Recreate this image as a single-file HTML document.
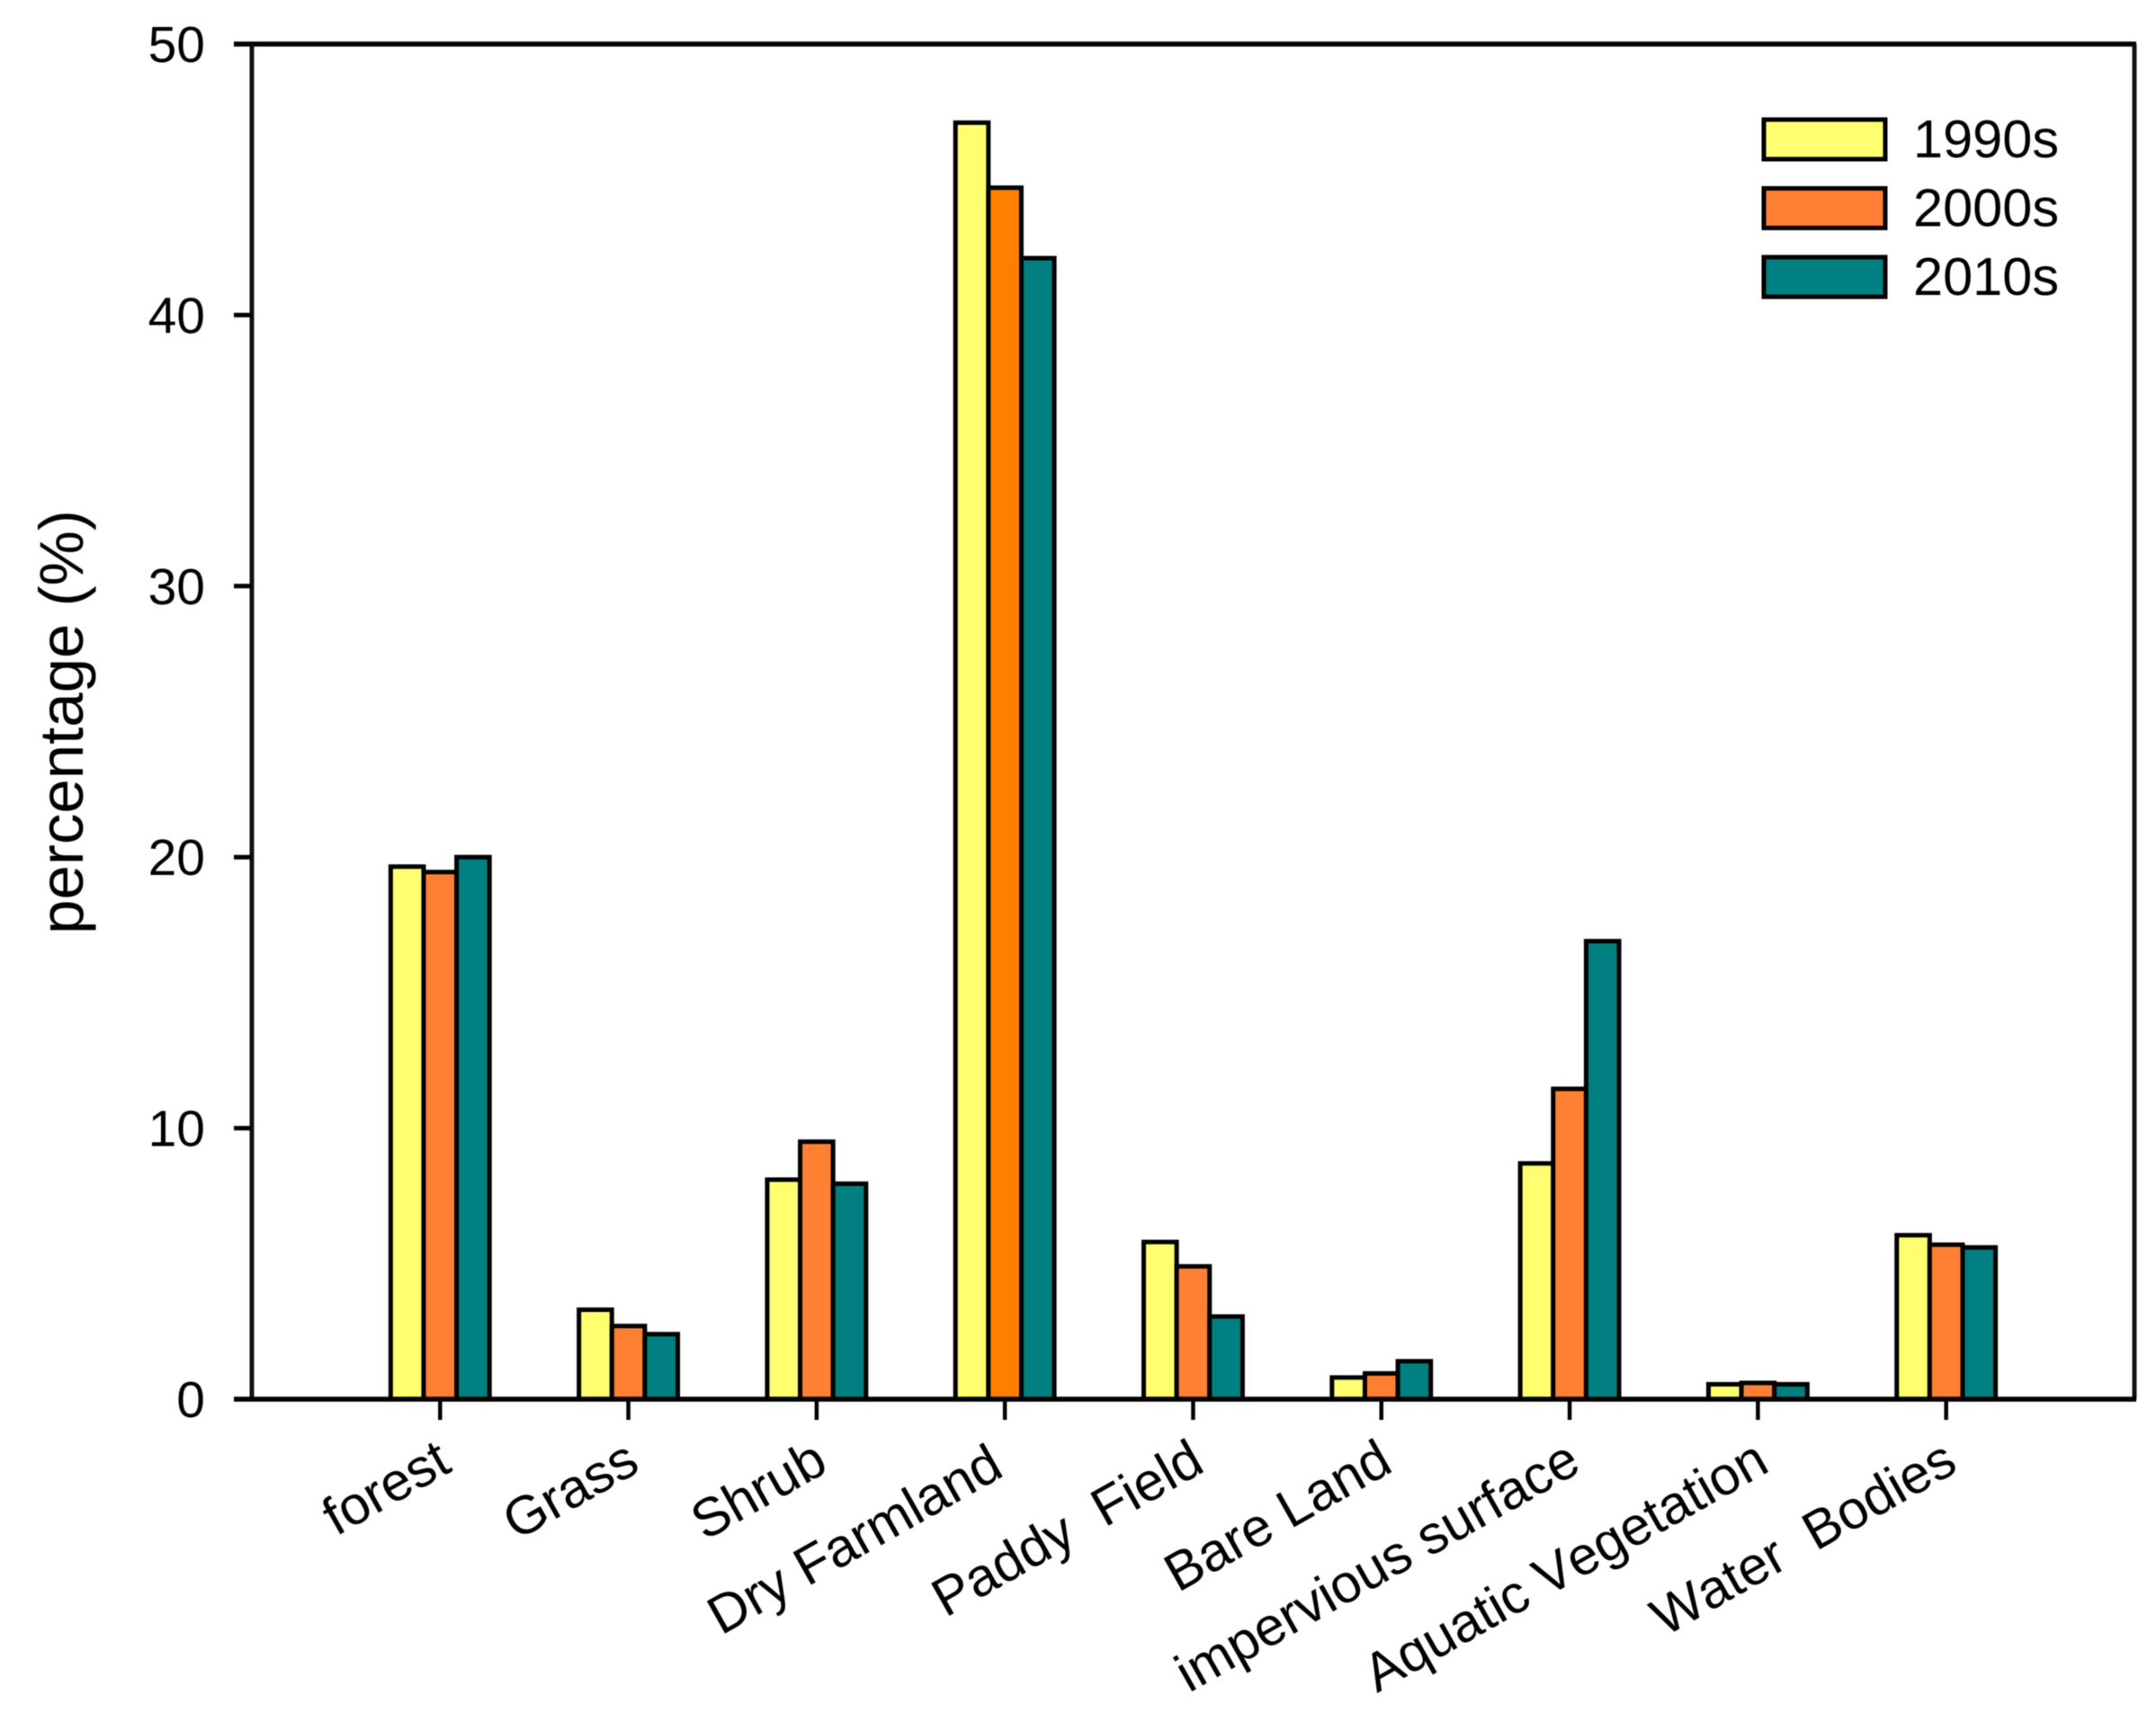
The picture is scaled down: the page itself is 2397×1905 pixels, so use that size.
<!DOCTYPE html>
<html lang="en">
<head>
<meta charset="utf-8">
<title>Land cover percentage by decade</title>
<style>
html,body{margin:0;padding:0;background:#fff;width:2397px;height:1905px;overflow:hidden}
svg{display:block;filter:blur(0.6px)}
text{font-family:"Liberation Sans",sans-serif;fill:#000;white-space:pre;font-kerning:none}
</style>
</head>
<body>
<svg id="chart" xmlns="http://www.w3.org/2000/svg" width="2397" height="1905" viewBox="0 0 2397 1905"></svg>
<script>
const categories = ['forest','Grass','Shrub','Dry Farmland','Paddy  Field','Bare Land','impervious surface','Aquatic Vegetation','Water  Bodies'];
const seriesNames = ['1990s','2000s','2010s'];
const values1990s = [19.65,3.3,8.1,47.1,5.8,0.8,8.7,0.55,6.05];
const values2000s = [19.45,2.7,9.5,44.7,4.9,0.95,11.45,0.6,5.7];
const values2010s = [20.0,2.4,7.95,42.1,3.05,1.4,16.9,0.55,5.6];
const yTickLabels = [0,10,20,30,40,50];

const allSeries = [values1990s, values2000s, values2010s];
const colors = ['#FFFF70','#FF8033','#008080'];
const svg = document.getElementById('chart');
const NS = 'http://www.w3.org/2000/svg';
const plot = {l:280, r:2373, t:49, b:1556};
const yMax = 50;
const xSlots = categories.length + 1;

function xScale(i){ return plot.l + (i + 1) * (plot.r - plot.l) / xSlots; }
function yScale(v){ return plot.b - v * (plot.b - plot.t) / yMax; }
const barW = 0.175 * (plot.r - plot.l) / xSlots;

function make(tag, attrs, text){
  const el = document.createElementNS(NS, tag);
  for (const k in attrs) el.setAttribute(k, attrs[k]);
  if (text !== undefined) el.textContent = text;
  svg.appendChild(el);
  return el;
}

// plot frame
const frameTop = make('line',{x1:260,y1:plot.t,x2:plot.r+2,y2:plot.t,stroke:'#000','stroke-width':5.5});


const frameRight = make('line',{x1:plot.r,y1:plot.t,x2:plot.r,y2:plot.b,stroke:'#111','stroke-width':5});


const yAxisLine = make('line',{x1:plot.l,y1:plot.t,x2:plot.l,y2:plot.b,stroke:'#111','stroke-width':5});



// y ticks
yTickLabels.forEach(function(v){
  const tick = make('line',{x1:260,y1:yScale(v),x2:plot.l,y2:yScale(v),stroke:'#000','stroke-width':5});
  
  
  const label = make('text',{x:228,y:yScale(v)+20,'text-anchor':'end','font-size':57}, String(v));
  
  
});

// bars
categories.forEach(function(cat, i){
  allSeries.forEach(function(values, s){
    const x = xScale(i) + (s - 1.5) * barW;
    const y = yScale(values[i]);
    const isDryOrange = (cat === 'Dry Farmland' && s === 1);
    const bar = make('rect',{x:x,y:y,width:barW,height:plot.b-y,fill:isDryOrange?'#FF8000':colors[s],stroke:'#000','stroke-width':5});
    
    
  });
});

// x axis and ticks
const xAxisLine = make('line',{x1:260,y1:plot.b,x2:plot.r+2,y2:plot.b,stroke:'#000','stroke-width':5.5});


categories.forEach(function(cat, i){
  const x = xScale(i);
  const tick = make('line',{x1:x,y1:plot.b,x2:x,y2:plot.b+23,stroke:'#000','stroke-width':4.5});
  
  
  const isDry = (cat === 'Dry Farmland');
  const lx = x + (isDry ? 1 : 15), ly = plot.b + (isDry ? 84 : 79);
  const label = make('text',{x:lx,y:ly,'text-anchor':'end','font-size':60,transform:'rotate(-29.5 '+lx+' '+ly+')'}, cat);
  
  
});

// y axis title
const yTitle = make('text',{x:0,y:0,'text-anchor':'middle','font-size':69,transform:'translate(92 803) rotate(-90)'}, 'percentage (%)');



// legend
seriesNames.forEach(function(name, s){
  const top = 133 + s * 76.5;
  const swatch = make('rect',{x:1961,y:top,width:135,height:44,fill:colors[s],stroke:'#000','stroke-width':5});
  
  
  const label = make('text',{x:2127,y:top+42,'font-size':59.5}, name);
  
  
});
</script>
</body>
</html>
